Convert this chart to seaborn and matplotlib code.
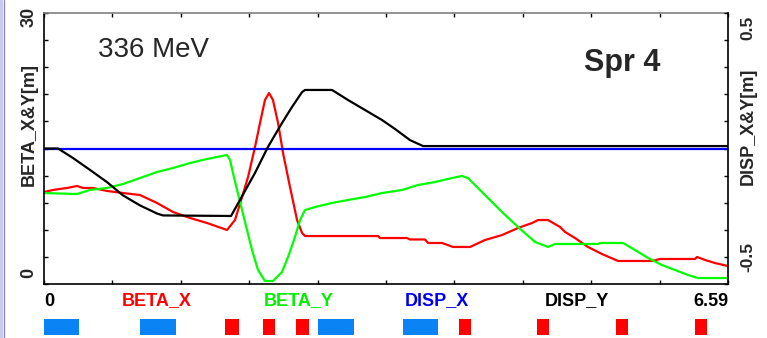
import matplotlib
matplotlib.use('Agg')
import matplotlib.pyplot as plt
import seaborn as sns
from matplotlib.patches import Rectangle
from matplotlib.lines import Line2D

# ---------------- data ----------------
s_beta_x = [0, 0.087, 0.222, 0.318, 0.376, 0.472, 0.607, 0.761, 0.925, 1.089,
            1.243, 1.407, 1.571, 1.763, 1.840, 1.908, 1.966, 2.033, 2.081, 2.129,
            2.168, 2.206, 2.255, 2.303, 2.370, 2.438, 2.486, 2.515, 3.218, 3.237,
            3.497, 3.526, 3.671, 3.700, 3.835, 3.941, 4.105, 4.249, 4.413, 4.567,
            4.702, 4.760, 4.856, 4.972, 5.020, 5.116, 5.241, 5.376, 5.531, 5.858,
            5.935, 6.272, 6.292, 6.369, 6.465, 6.590]
beta_x = [10.18, 10.41, 10.63, 10.85, 10.63, 10.63, 10.30, 10.07, 9.85, 8.97,
          7.97, 7.31, 6.75, 5.98, 7.08, 9.63, 11.84, 15.17, 17.82, 20.37,
          21.14, 20.37, 17.82, 14.50, 10.74, 7.08, 5.65, 5.31, 5.31, 5.09,
          5.09, 4.93, 4.93, 4.54, 4.54, 4.10, 4.10, 4.87, 5.42, 6.20,
          6.75, 7.08, 7.08, 6.31, 5.76, 5.09, 4.10, 3.32, 2.55, 2.55,
          2.77, 2.77, 2.99, 2.66, 2.32, 1.99]

s_beta_y = [0, 0.318, 0.443, 0.607, 0.761, 0.925, 1.089, 1.243, 1.407, 1.571,
            1.763, 1.792, 1.821, 1.860, 1.908, 1.956, 2.004, 2.062, 2.129, 2.206,
            2.293, 2.351, 2.418, 2.467, 2.515, 2.611, 2.775, 2.929, 3.093, 3.257,
            3.449, 3.603, 3.767, 3.931, 4.027, 4.085, 4.249, 4.413, 4.567, 4.731,
            4.856, 4.923, 5.338, 5.357, 5.579, 5.694, 5.820, 5.954, 6.080, 6.205,
            6.301, 6.590]
beta_y = [10.07, 9.96, 10.41, 10.63, 11.07, 11.73, 12.40, 12.84, 13.39, 13.84,
          14.28, 13.73, 12.29, 10.41, 8.19, 5.98, 3.76, 1.55, 0.33, 0.33,
          1.33, 2.99, 5.20, 7.08, 8.19, 8.52, 8.97, 9.30, 9.63, 10.07,
          10.41, 10.96, 11.29, 11.73, 11.96, 11.73, 9.85, 7.97, 6.31, 4.65,
          4.10, 4.43, 4.43, 4.54, 4.54, 3.76, 2.88, 2.10, 1.55, 1.00,
          0.66, 0.66]

s_disp_x = [0, 6.59]
disp_x = [0.0, 0.0]

s_disp_y = [0, 0.135, 0.279, 0.443, 0.607, 0.761, 0.925, 1.089, 1.147, 1.802,
            1.888, 2.033, 2.158, 2.293, 2.389, 2.486, 2.515, 2.775, 2.929, 3.093,
            3.257, 3.382, 3.526, 3.652, 6.590]
disp_y = [0, 0, -0.035, -0.079, -0.124, -0.173, -0.210, -0.240, -0.247, -0.249,
          -0.190, -0.090, 0.006, 0.094, 0.153, 0.208, 0.216, 0.216, 0.179, 0.142,
          0.105, 0.072, 0.031, 0.009, 0.009]

# beamline elements (start, length)
quad_start = [0.0, 0.925, 2.640, 3.459]
quad_len = [0.337, 0.347, 0.347, 0.337]
bend_start = [1.744, 2.110, 2.428, 3.999, 4.750, 5.511, 6.272]
bend_len = [0.135, 0.116, 0.125, 0.116, 0.116, 0.116, 0.116]

s_max = 6.59
beta_range = (0, 30)
disp_range = (-0.5, 0.5)
bottom_labels = ["0", "BETA_X", "BETA_Y", "DISP_X", "DISP_Y", "6.59"]
bottom_colors = ["black", "#ff0000", "#00f000", "#0000f0", "black", "black"]

# ---------------- figure ----------------
sns.set_style("white")
plt.rcParams['font.family'] = ['Liberation Sans', 'DejaVu Sans']

W, H = 767, 338
fig = plt.figure(figsize=(W / 100, H / 100), dpi=100)
fig.patch.set_facecolor('white')

# lavender strip at far left
fig.patches.append(Rectangle((0, 0), 3.5 / W, 1, transform=fig.transFigure,
                             facecolor='#c9c9f3', edgecolor='none', zorder=0))
fig.lines.append(Line2D([4 / W, 4 / W], [0, 1], transform=fig.transFigure,
                        color='#8a8ab0', lw=1))

L, R, B, T = 44, 728, 284, 13
ax = fig.add_axes([L / W, 1 - B / H, (R - L) / W, (B - T) / H])
ax2 = ax.twinx()

lw = 1.6
sns.lineplot(x=s_beta_x, y=beta_x, ax=ax, color='#ff0000', lw=lw,
             sort=False, estimator=None, legend=False)
sns.lineplot(x=s_beta_y, y=beta_y, ax=ax, color='#00ff00', lw=lw,
             sort=False, estimator=None, legend=False)
sns.lineplot(x=s_disp_x, y=disp_x, ax=ax2, color='#0000ff', lw=lw,
             sort=False, estimator=None, legend=False)
sns.lineplot(x=s_disp_y, y=disp_y, ax=ax2, color='black', lw=lw,
             sort=False, estimator=None, legend=False)

ax.set_xlim(0, s_max)
ax.set_ylim(*beta_range)
ax2.set_ylim(*disp_range)
ax.set_xlabel('')
ax.set_ylabel('')
ax2.set_ylabel('')

ax.set_xticks([s_max * i / 10 for i in range(11)])
ax.set_yticks(range(0, 31, 3))
ax2.set_yticks([-0.5 + 0.1 * i for i in range(11)])
ax.tick_params(axis='both', direction='in', length=3, width=1, color='black',
               labelleft=False, labelbottom=False, top=True, bottom=True,
               left=True, right=False)
ax2.tick_params(axis='y', direction='in', length=3, width=1, color='black',
                labelright=False, right=True)
for t in ax.xaxis.get_major_ticks():
    t.tick2line.set_color('#808080')

for name, sp in ax.spines.items():
    sp.set_visible(True)
    sp.set_color('black')
    sp.set_linewidth(1.2)
ax.spines['top'].set_color('#808080')
ax.spines['right'].set_visible(False)
for name, sp in ax2.spines.items():
    sp.set_visible(name == 'right')
ax2.spines['right'].set_color('black')
ax2.spines['right'].set_linewidth(1.2)
ax.grid(False)
ax2.grid(False)

# in-plot texts
ax.text((98 - L) / (R - L), (B - 57) / (B - T), "336 MeV", transform=ax.transAxes,
        fontsize=20, ha='left', va='baseline')
ax.text((622 - L) / (R - L), (B - 71) / (B - T), "Spr 4", transform=ax.transAxes,
        fontsize=22, fontweight='bold', ha='center', va='baseline')

# axis labels in columns
lab = dict(rotation=90, ha='center', va='center', fontweight='bold')
fig.text(29 / W, 1 - 17 / H, "30", fontsize=13, **lab)
fig.text(29 / W, 1 - 124 / H, "BETA_X&Y[m]", fontsize=13, **lab)
fig.text(29 / W, 1 - 273 / H, "0", fontsize=13, **lab)
fig.text(748 / W, 1 - 28 / H, "0.5", fontsize=12.5, **lab)
fig.text(748 / W, 1 - 126 / H, "DISP_X&Y[m]", fontsize=13, **lab)
fig.text(748 / W, 1 - 257 / H, "-0.5", fontsize=12.5, **lab)

# bottom legend-like labels
xpos = [44, 157, 299, 437, 577, 728]
has = ['left', 'center', 'center', 'center', 'center', 'right']
for txt, c, xp, ha in zip(bottom_labels, bottom_colors, xpos, has):
    fig.text(xp / W, 1 - 301 / H, txt, color=c, fontsize=13, fontweight='bold',
             ha=ha, va='center')

# element strip
axe = fig.add_axes([L / W, 3 / H, (R - L) / W, 16 / H])
axe.bar(quad_start, 1, width=quad_len, align='edge', color='#0a84f5', edgecolor='none')
axe.bar(bend_start, 1, width=bend_len, align='edge', color='#ff0000', edgecolor='none')
axe.set_xlim(0, s_max)
axe.set_ylim(0, 1)
axe.axis('off')

fig.savefig('out.png', dpi=100)
